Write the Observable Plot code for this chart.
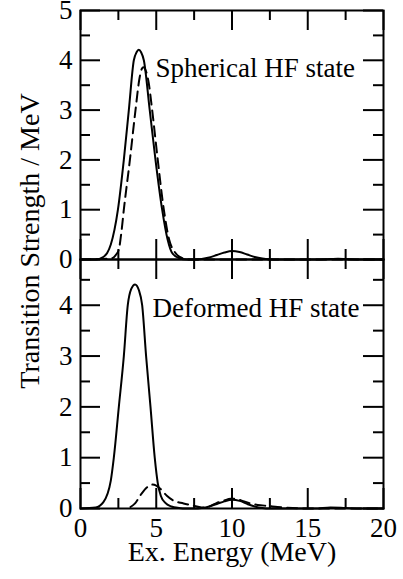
<!DOCTYPE html>
<html>
<head>
<meta charset="utf-8">
<script src="https://cdn.jsdelivr.net/npm/d3@7"></script>
<script src="https://cdn.jsdelivr.net/npm/@observablehq/plot@0.6"></script>
<style>
  html, body { margin: 0; padding: 0; background: #fff; }
  #chart { position: relative; width: 403px; height: 579px; background: #fff; font-family: "Liberation Serif", serif; }
  #chart svg { position: absolute; left: 0; overflow: visible; }
  #chart svg text { font-family: "Liberation Serif", serif; }
</style>
</head>
<body>
<div id="chart"></div>
<script>
// ---------- data ----------
// Top panel: Spherical HF state
const topSolidE = [0, 1.0, 1.5, 1.76, 2.0, 2.47, 2.86, 3.19, 3.52, 3.7, 3.85, 4.0, 4.18, 4.57, 4.95, 5.39, 5.75, 6.05, 6.5, 7.0, 7.5, 8.0, 8.5, 9.0, 9.5, 10.0, 10.5, 11.0, 11.5, 12.0, 12.5, 13.0, 15.5, 16.5, 17.0, 17.5, 18.5, 20];
const topSolidS = [0, 0.0, 0.05, 0.13, 0.3, 1.0, 2.0, 3.0, 4.0, 4.16, 4.21, 4.16, 4.0, 3.0, 2.0, 1.0, 0.4, 0.13, 0.03, 0.0, 0.0, 0.01, 0.04, 0.09, 0.14, 0.17, 0.15, 0.10, 0.05, 0.02, 0.005, 0, 0, 0.01, 0.015, 0.01, 0, 0];
const topDashE = [0, 2.0, 2.3, 2.53, 2.7, 2.86, 3.26, 3.63, 3.9, 4.05, 4.15, 4.3, 4.5, 4.73, 5.1, 5.5, 5.85, 6.27, 6.7, 7.2, 20];
const topDashS = [0, 0.02, 0.08, 0.2, 0.55, 1.0, 2.0, 3.0, 3.65, 3.83, 3.86, 3.8, 3.55, 3.0, 2.0, 1.0, 0.4, 0.13, 0.03, 0, 0];

// Bottom panel: Deformed HF state
const botSolidE = [0, 1.0, 1.5, 2.0, 2.2, 2.53, 2.86, 3.12, 3.35, 3.6, 3.85, 4.07, 4.33, 4.62, 4.9, 5.1, 5.3, 5.6, 6.0, 6.5, 7.0, 7.5, 8.0, 8.5, 9.0, 9.5, 10.0, 10.5, 11.0, 11.5, 12.0, 12.5, 15.5, 16.5, 17.5, 18.5, 20];
const botSolidS = [0, 0.02, 0.12, 0.55, 1.0, 2.0, 3.0, 4.0, 4.32, 4.41, 4.3, 4.0, 3.0, 2.0, 1.0, 0.5, 0.25, 0.11, 0.04, 0.01, 0, 0, 0.01, 0.04, 0.09, 0.14, 0.17, 0.15, 0.09, 0.04, 0.01, 0, 0, 0.02, 0.01, 0, 0];
const botDashE = [3.3, 3.6, 4.0, 4.4, 4.73, 5.0, 5.26, 5.7, 6.1, 6.8, 7.4, 8.0, 8.5, 9.0, 9.5, 9.9, 10.3, 10.6, 11.2, 11.7, 12.4, 13.0, 14.0, 15.0, 20];
const botDashS = [0.03, 0.1, 0.28, 0.42, 0.47, 0.45, 0.39, 0.25, 0.16, 0.1, 0.06, 0.02, 0.04, 0.11, 0.16, 0.19, 0.19, 0.16, 0.1, 0.07, 0.05, 0.03, 0.01, 0, 0];

// ticks & labels
const xMajor = [0, 5, 10, 15, 20];
const xMinor = [2.5, 7.5, 12.5, 17.5];
const topYMajor = [0, 1, 2, 3, 4, 5];
const botYMajor = [0, 1, 2, 3, 4];
const yMinor = [0.5, 1.5, 2.5, 3.5, 4.5];
const topLabel = "Spherical HF state";
const botLabel = "Deformed HF state";
const topLabelAt = {x: 4.95, y: 3.67};
const botLabelAt = {x: 4.75, y: 3.76};
const xTitle = "Ex. Energy (MeV)";
const yTitle = "Transition Strength / MeV";
const topYDomain = [0, 5];
const botYDomain = [0, 4.9];

// ---------- layout ----------
const W = 403, ML = 80, MR = 20, PH = 249, MAJ = 20, MIN = 10;
const PW = W - ML - MR;
const FONT = "Liberation Serif, serif";

const pts = (E, S) => E.map((e, i) => ({e, s: S[i]}));
const fmt = d => String(d);

function frameTicks(yMajor) {
  const sw = 2;
  return [
    Plot.tickX(xMajor, {x: d => d, insetTop: PH - MAJ, strokeWidth: sw}),
    Plot.tickX(xMajor, {x: d => d, insetBottom: PH - MAJ, strokeWidth: sw}),
    Plot.tickX(xMinor, {x: d => d, insetTop: PH - MIN, strokeWidth: sw}),
    Plot.tickX(xMinor, {x: d => d, insetBottom: PH - MIN, strokeWidth: sw}),
    Plot.tickY(yMajor, {y: d => d, insetRight: PW - MAJ, strokeWidth: sw}),
    Plot.tickY(yMajor, {y: d => d, insetLeft: PW - MAJ, strokeWidth: sw}),
    Plot.tickY(yMinor, {y: d => d, insetRight: PW - MIN, strokeWidth: sw}),
    Plot.tickY(yMinor, {y: d => d, insetLeft: PW - MIN, strokeWidth: sw})
  ];
}

function panel({solid, dashed, yDomain, yMajor, label, labelAt, marginTop, marginBottom, bottomAxis}) {
  const marks = [
    Plot.axisY(yMajor, {tickSize: 0, tickPadding: 8, label: null, fontSize: 27, tickFormat: fmt}),
    ...frameTicks(yMajor),
    Plot.line(solid, {x: "e", y: "s", curve: "monotone-x", strokeWidth: 2, stroke: "black"}),
    Plot.line(dashed, {x: "e", y: "s", curve: "monotone-x", strokeWidth: 2, stroke: "black", strokeDasharray: "10,6"}),
    Plot.frame({strokeWidth: 2, stroke: "black"}),
    Plot.text([label], {x: () => labelAt.x, y: () => labelAt.y, text: d => d, textAnchor: "start", lineAnchor: "bottom", fontSize: 27, fill: "black"})
  ];
  if (bottomAxis) {
    marks.push(Plot.axisX(xMajor, {tickSize: 0, tickPadding: 9, label: null, fontSize: 27, tickFormat: fmt}));
    marks.push(Plot.text([xTitle], {frameAnchor: "bottom", dy: 52, lineAnchor: "bottom", text: d => d, fontSize: 28, fill: "black"}));
  }
  return Plot.plot({
    width: W,
    height: marginTop + PH + marginBottom,
    marginLeft: ML, marginRight: MR, marginTop, marginBottom,
    style: {fontFamily: FONT, fontSize: "27px", background: "transparent", color: "black", overflow: "visible"},
    x: {domain: [0, 20], axis: bottomAxis ? undefined : null, label: null},
    y: {domain: yDomain, label: null},
    marks
  });
}

const chart = document.getElementById("chart");

const topPlot = panel({
  solid: pts(topSolidE, topSolidS), dashed: pts(topDashE, topDashS),
  yDomain: topYDomain, yMajor: topYMajor, label: topLabel, labelAt: topLabelAt,
  marginTop: 10, marginBottom: 1, bottomAxis: false
});
topPlot.style.top = "0px";

const botPlot = panel({
  solid: pts(botSolidE, botSolidS), dashed: pts(botDashE, botDashS),
  yDomain: botYDomain, yMajor: botYMajor, label: botLabel, labelAt: botLabelAt,
  marginTop: 0, marginBottom: 71, bottomAxis: true
});
botPlot.style.top = "259px";

chart.appendChild(botPlot);
chart.appendChild(topPlot);

// shared y-axis title spanning both panels
const ns = "http://www.w3.org/2000/svg";
const overlay = document.createElementNS(ns, "svg");
overlay.setAttribute("width", 403);
overlay.setAttribute("height", 579);
overlay.style.top = "0px";
overlay.style.pointerEvents = "none";
const t = document.createElementNS(ns, "text");
t.setAttribute("transform", "translate(39,241) rotate(-90)");
t.setAttribute("text-anchor", "middle");
t.setAttribute("font-family", FONT);
t.setAttribute("font-size", "28");
t.setAttribute("fill", "black");
t.textContent = yTitle;
overlay.appendChild(t);
chart.appendChild(overlay);
</script>
</body>
</html>
